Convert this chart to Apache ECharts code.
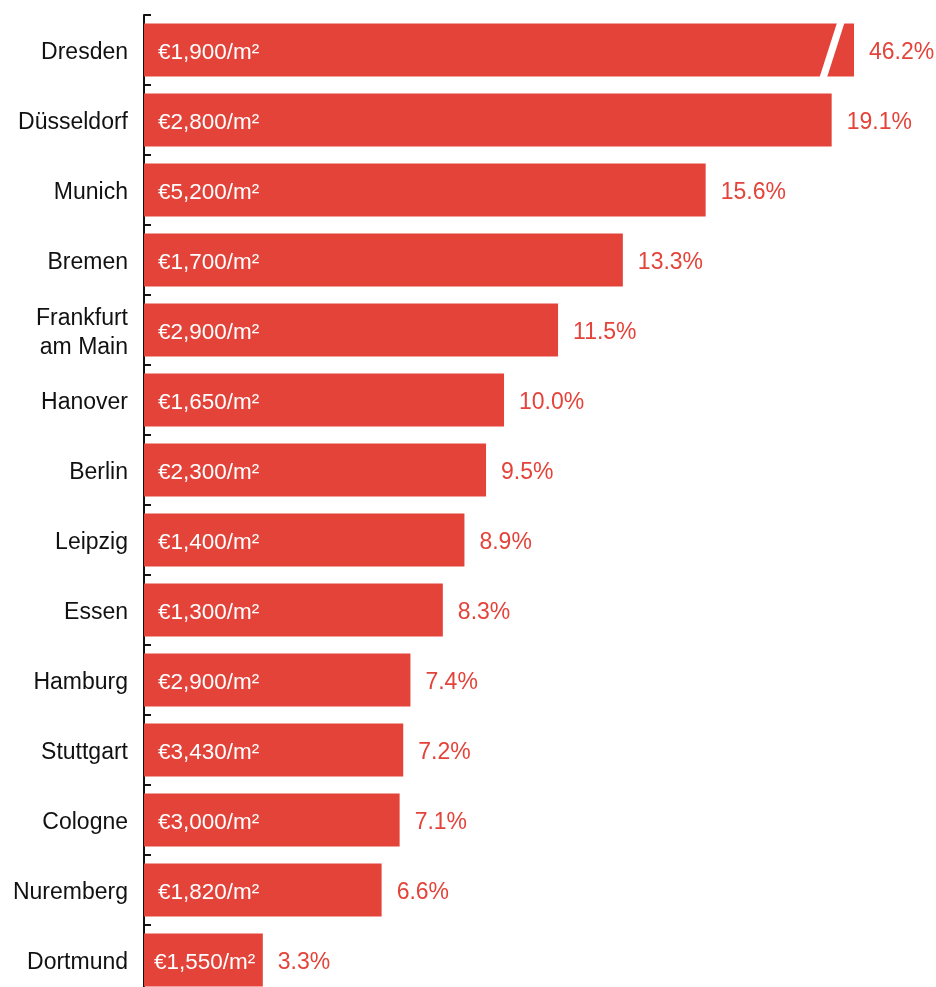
<!DOCTYPE html>
<html>
<head>
<meta charset="utf-8">
<script src="https://cdn.jsdelivr.net/npm/echarts@6/dist/echarts.min.js"></script>
<style>
  html, body { margin: 0; padding: 0; background: #ffffff; overflow: hidden; }
  #chart { width: 936px; height: 995px; }
</style>
</head>
<body>
<div id="chart"></div>
<script>
// German cities: price growth (%) and average price per square metre
const cities = ['Dresden', 'Düsseldorf', 'Munich', 'Bremen', 'Frankfurt\nam Main', 'Hanover', 'Berlin',
  'Leipzig', 'Essen', 'Hamburg', 'Stuttgart', 'Cologne', 'Nuremberg', 'Dortmund'];
const growth = [46.2, 19.1, 15.6, 13.3, 11.5, 10.0, 9.5, 8.9, 8.3, 7.4, 7.2, 7.1, 6.6, 3.3];
const prices = [1900, 2800, 5200, 1700, 2900, 1650, 2300, 1400, 1300, 2900, 3430, 3000, 1820, 1550];

// Value-axis break that keeps the outlier bar within the plot
const axisBreak = { start: 19.11, end: 45.71, gap: 0.12 };

const RED = '#E4433A';
const FONT = '"Liberation Sans", Arial, Helvetica, sans-serif';

const fmtPrice = v => '€' + v.toLocaleString('en-US') + '/m²';

const chart = echarts.init(document.getElementById('chart'), null, { renderer: 'canvas' });

chart.setOption({
  animation: false,
  backgroundColor: '#ffffff',
  grid: { left: 144, right: 82, top: 15, bottom: 0, containLabel: false },
  xAxis: {
    type: 'value',
    min: 0,
    max: 46.2,
    breaks: [axisBreak],
    breakArea: { show: false },
    axisLine: { show: false },
    axisTick: { show: false },
    axisLabel: { show: false },
    splitLine: { show: false }
  },
  yAxis: {
    type: 'category',
    data: cities,
    inverse: true,
    axisLine: { show: true, lineStyle: { color: '#111111', width: 2 } },
    axisTick: { show: true, inside: true, length: 7, lineStyle: { color: '#111111', width: 2 } },
    axisLabel: {
      margin: 16,
      align: 'right',
      formatter: v => v.split('\n').map(s => '{c|' + s + '}').join('\n'),
      rich: {
        c: {
          color: '#111111', fontSize: 23, fontFamily: FONT, lineHeight: 29, padding: [6, 0, 0, 0]
        }
      }
    }
  },
  series: [
    {
      // bars with the price label inside
      type: 'bar',
      barWidth: 53,
      data: growth.map((g, i) => ({
        value: g,
        label: { distance: i === growth.length - 1 ? 10 : 14 }
      })),
      itemStyle: { color: RED },
      label: {
        show: true,
        position: 'insideLeft',
        offset: [0, 2.5],
        color: '#ffffff',
        fontSize: 22.5,
        fontFamily: FONT,
        formatter: p => fmtPrice(prices[p.dataIndex])
      },
      z: 2
    },
    {
      // transparent overlay carrying the growth label at the bar end
      type: 'bar',
      barWidth: 53,
      barGap: '-100%',
      data: growth,
      itemStyle: { color: 'rgba(0,0,0,0)' },
      label: {
        show: true,
        position: 'right',
        distance: 15,
        offset: [0, 2.5],
        color: RED,
        fontSize: 23,
        fontFamily: FONT,
        formatter: p => p.value.toFixed(1) + '%'
      },
      silent: true,
      z: 3
    },
    {
      // slanted cut marking the broken bar, placed at the start of the break
      type: 'custom',
      data: growth.map((g, i) => [g, i]).filter(d => d[0] > axisBreak.end)
        .map(d => [axisBreak.start, d[1]]),
      encode: { x: 0, y: 1 },
      renderItem: (params, api) => {
        const c = api.coord([api.value(0), api.value(1)]);
        const h = 55, w = 7.5, s = 8.8;
        return {
          type: 'polygon',
          shape: {
            points: [
              [c[0] + s - w / 2, c[1] - h / 2],
              [c[0] + s + w / 2, c[1] - h / 2],
              [c[0] - s + w / 2, c[1] + h / 2],
              [c[0] - s - w / 2, c[1] + h / 2]
            ]
          },
          style: { fill: '#ffffff' }
        };
      },
      silent: true,
      z: 4
    }
  ]
});
</script>
</body>
</html>
